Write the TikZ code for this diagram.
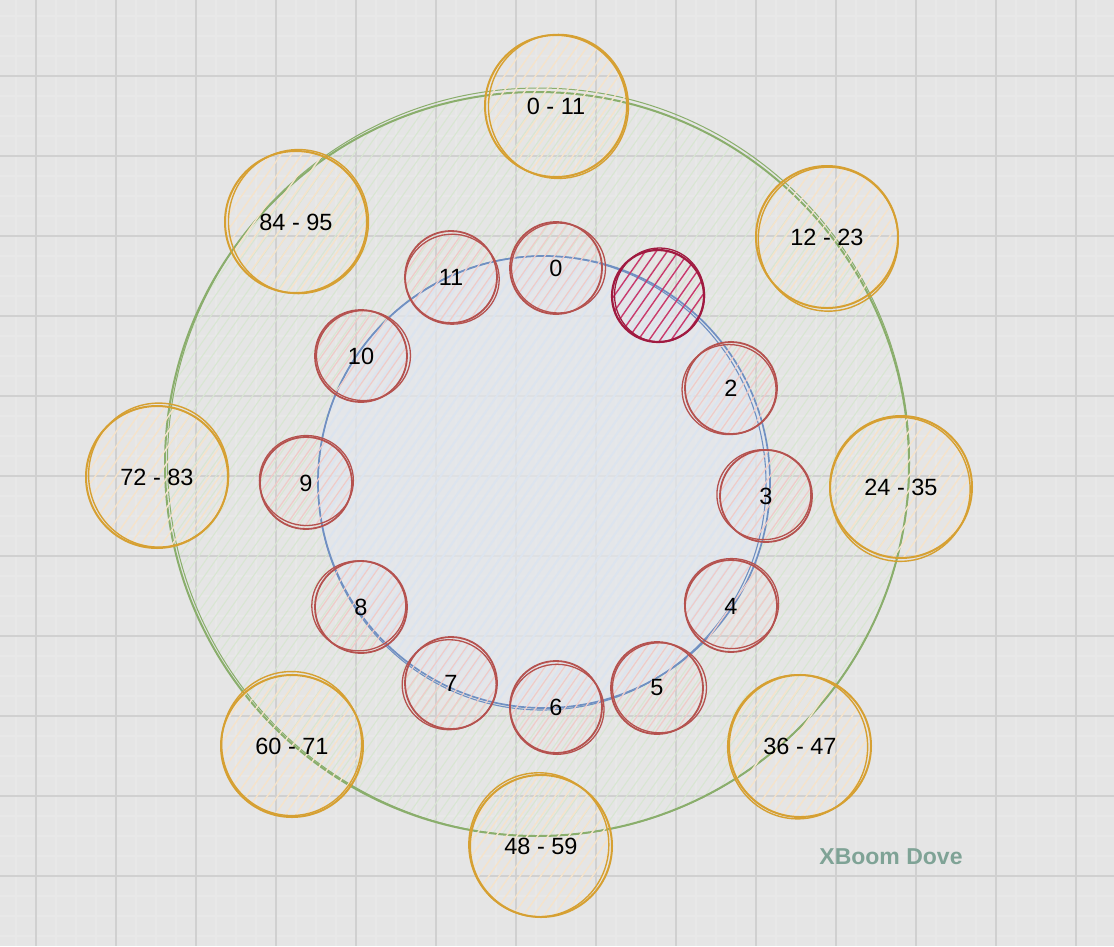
\documentclass[tikz,border=0pt]{standalone}
\usepackage{fontspec}
\setmainfont{Liberation Sans}
\usetikzlibrary{calc}
\definecolor{bgc}{HTML}{E5E5E5}
\definecolor{minorc}{HTML}{E8E8E8}
\definecolor{majorc}{HTML}{D0D0D0}
\definecolor{greenc}{HTML}{8AAE6C}
\definecolor{greenh}{HTML}{D8E6D2}
\definecolor{bluec}{HTML}{7090C2}
\definecolor{bluef}{HTML}{E4E7EC}
\definecolor{blueh}{HTML}{DCE4EF}
\definecolor{redc}{HTML}{B5524F}
\definecolor{redh}{HTML}{EFCBC8}
\definecolor{darkred}{HTML}{A01A40}
\definecolor{pinkh}{HTML}{C93A6C}
\definecolor{orangec}{HTML}{D6A032}
\definecolor{orangeh}{HTML}{F5E3CB}
\definecolor{brandc}{HTML}{7FA396}
\tikzset{
 hach/.style n args={4}{path picture={%
   \foreach \k in {-#1,...,#1}
     \draw[#4] ([shift={({\k*#2*0.819-#3*0.574},{\k*#2*0.574+#3*0.819})}]path picture bounding box.center) -- ++({2*#3*0.574},{-2*#3*0.819});
 }},
 lbl/.style={font=\fontsize{23.5}{23.5}\selectfont},
 ringc/.style={circle, inner sep=0pt, minimum size=744pt, draw=greenc, line width=2pt,
   hach={48}{8}{400}{greenh, line width=1.1pt}},
 innerc/.style={circle, inner sep=0pt, minimum size=452pt, draw=bluec, line width=1.7pt,
   fill=bluef, fill opacity=0.7, hach={30}{8}{240}{blueh, line width=2pt, opacity=1}},
 redn/.style={circle, inner sep=0pt, minimum size=92pt, draw=redc, line width=1.8pt, lbl,
   hach={7}{8}{60}{redh, line width=1.2pt}},
 hotn/.style={circle, inner sep=0pt, minimum size=92pt, draw=darkred, line width=2.2pt,
   hach={6}{9}{60}{pinkh, line width=1.4pt}},
 orangen/.style={circle, inner sep=0pt, minimum size=142pt, draw=orangec, line width=2pt, lbl,
   hach={10}{8.5}{90}{orangeh, line width=1.4pt}},
 redline/.style={draw=redc, line width=1.3pt},
 orangeline/.style={draw=orangec, line width=1.4pt},
}
\begin{document}
\begin{tikzpicture}[x=1pt,y=-1pt]
\useasboundingbox (0,0) rectangle (1114,946);
\fill[bgc] (0,0) rectangle (1114,946);
\foreach \i in {1,...,56} \draw[minorc, line width=1.2pt] (\i*20-4,0) -- (\i*20-4,946);
\foreach \i in {1,...,47} \draw[minorc, line width=1.2pt] (0,\i*20-4) -- (1114,\i*20-4);
\foreach \i in {0,...,13} \draw[majorc, line width=1.1pt] (36+\i*80,0) -- (36+\i*80,946);
\foreach \i in {1,...,11} \draw[majorc, line width=1.1pt] (0,\i*80-4) -- (1114,\i*80-4);

% outer ring
\node[ringc] (ring) at (537,464) {};
\draw[greenc, line width=1pt] ([shift={(1.5,-2)}]ring.center) ellipse [x radius=371pt, y radius=374pt];
% inner ring
\node[innerc] (inner) at (544,482) {};
\draw[bluec, line width=1.1pt] ([shift={(-2,1)}]inner.center) ellipse [x radius=224pt, y radius=227pt];

% red slots
\foreach \n/\x/\y in {0/556/268, 2/731/388, 3/766/496, 4/731/606, 5/657/688, 6/556/707,
  7/451/683, 8/361/607, 9/306/483, 10/361/356, 11/451/277}
  \node[redn] (r\n) at (\x,\y) {\n};
\node[hotn] (r1) at (658,296) {};

\foreach \n in {0,2,3,4,5,6,7,8,9,10,11}
  \draw[redline] ([shift={({2.5*cos(\n*71)},{2.5*sin(\n*71)})}]r\n.center) ellipse [x radius=47pt, y radius=45pt];
\draw[darkred, line width=1.3pt] ([shift={(1.5,-1)}]r1.center) ellipse [x radius=45pt, y radius=47pt];

% orange ranges
\foreach \n/\x/\y/\t in {a/556/106/{0 - 11}, b/827/237/{12 - 23}, c/901/487/{24 - 35},
  d/800/746/{36 - 47}, e/541/846/{48 - 59}, f/292/746/{60 - 71}, g/157/477/{72 - 83},
  h/296/222/{84 - 95}}
  \node[orangen] (o\n) at (\x,\y) {\t};
\foreach \n/\a in {a/10, b/60, c/110, d/160, e/210, f/260, g/310, h/350}
  \draw[orangeline] ([shift={({2.5*cos(\a)},{2.5*sin(\a)})}]o\n.center) ellipse [x radius=70pt, y radius=72pt];

\node[font=\bfseries\fontsize{23}{23}\selectfont, text=brandc] (brand) at (891,857) {XBoom Dove};
\end{tikzpicture}
\end{document}
